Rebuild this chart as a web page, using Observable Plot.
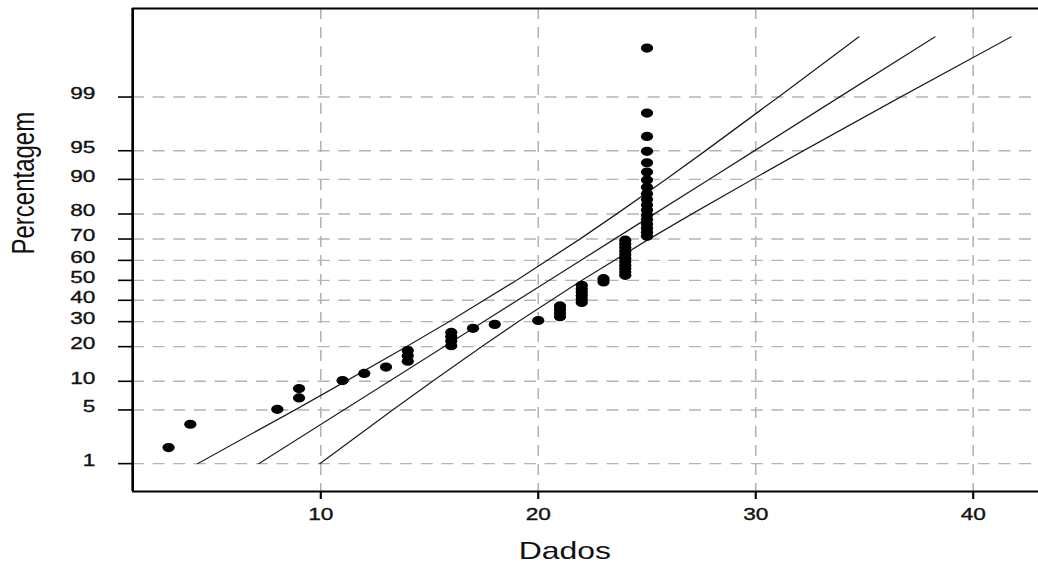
<!DOCTYPE html>
<html>
<head>
<meta charset="utf-8">
<script src="https://cdn.jsdelivr.net/npm/d3@7"></script>
<script src="https://cdn.jsdelivr.net/npm/@observablehq/plot@0.6"></script>
<style>
  html, body { margin: 0; padding: 0; background: white; overflow: hidden; }
  #chart { width: 1038px; height: 567px; }
</style>
</head>
<body>
<div id="chart"></div>
<script>
// ---- data ----
const dados = [3, 4, 8, 9, 9, 11, 12, 13, 14, 14, 14, 16, 16, 16, 16, 17, 18, 20,
  21, 21, 21, 21, 22, 22, 22, 22, 22, 22, 23, 23,
  24, 24, 24, 24, 24, 24, 24, 24, 24, 24, 24,
  25, 25, 25, 25, 25, 25, 25, 25, 25, 25, 25, 25, 25, 25, 25, 25, 25, 25];
const percentagem = [1.69, 3.39, 5.08, 6.78, 8.47, 10.17, 11.86, 13.56, 15.25, 16.95,
  18.64, 20.34, 22.03, 23.73, 25.42, 27.12, 28.81, 30.51, 32.20, 33.90,
  35.59, 37.29, 38.98, 40.68, 42.37, 44.07, 45.76, 47.46, 49.15, 50.85,
  52.54, 54.24, 55.93, 57.63, 59.32, 61.02, 62.71, 64.41, 66.10, 67.80,
  69.49, 71.19, 72.88, 74.58, 76.27, 77.97, 79.66, 81.36, 83.05, 84.75,
  86.44, 88.14, 89.83, 91.53, 93.22, 94.92, 96.61, 98.31, 99.84];

// fitted line and confidence band (percent levels and data values)
const linePercent = [1, 5, 10, 20, 30, 50, 70, 80, 90, 95, 99, 99.9];
const lineCenter = [7.15, 11.06, 13.14, 15.67, 17.49, 20.5, 23.51, 25.33, 27.86, 29.94, 33.85, 38.24];
const lineLower  = [4.34, 8.81, 11.15, 13.94, 15.9, 19.0, 21.92, 23.6, 25.87, 27.69, 31.04, 34.74];
const lineUpper  = [9.96, 13.31, 15.13, 17.4, 19.08, 22.0, 25.1, 27.06, 29.85, 32.19, 36.66, 41.74];

// axis ticks
const xTicks = [10, 20, 30, 40];
const yTickPercents = [1, 5, 10, 20, 30, 40, 50, 60, 70, 80, 90, 95, 99];

// ---- normal probability scale helper (inverse normal CDF) ----
function probit(p) {
  const a = [-3.969683028665376e+01, 2.209460984245205e+02, -2.759285104469687e+02, 1.383577518672690e+02, -3.066479806614716e+01, 2.506628277459239e+00];
  const b = [-5.447609879822406e+01, 1.615858368580409e+02, -1.556989798598866e+02, 6.680131188771972e+01, -1.328068155288572e+01];
  const c = [-7.784894002430293e-03, -3.223964580411365e-01, -2.400758277161838e+00, -2.549671664278934e+00, 4.374664141464968e+00, 2.938163982698783e+00];
  const d = [7.784695709041462e-03, 3.224671290700398e-01, 2.445134137142996e+00, 3.754408661907416e+00];
  const pl = 0.02425, ph = 1 - pl;
  let q, r;
  if (p < pl) {
    q = Math.sqrt(-2 * Math.log(p));
    return (((((c[0]*q+c[1])*q+c[2])*q+c[3])*q+c[4])*q+c[5]) / ((((d[0]*q+d[1])*q+d[2])*q+d[3])*q+1);
  }
  if (p <= ph) {
    q = p - 0.5; r = q * q;
    return (((((a[0]*r+a[1])*r+a[2])*r+a[3])*r+a[4])*r+a[5])*q / (((((b[0]*r+b[1])*r+b[2])*r+b[3])*r+b[4])*r+1);
  }
  q = Math.sqrt(-2 * Math.log(1 - p));
  return -(((((c[0]*q+c[1])*q+c[2])*q+c[3])*q+c[4])*q+c[5]) / ((((d[0]*q+d[1])*q+d[2])*q+d[3])*q+1);
}
const z = (pct) => probit(pct / 100);

// ---- tables built from the arrays ----
const points = dados.map((v, i) => ({x: v, p: percentagem[i]}));
const lines = [
  ...linePercent.map((p, i) => ({series: "lower", x: lineLower[i], p})),
  ...linePercent.map((p, i) => ({series: "center", x: lineCenter[i], p})),
  ...linePercent.map((p, i) => ({series: "upper", x: lineUpper[i], p}))
];
const yTickZ = yTickPercents.map(z);
const yLabel = new Map(yTickZ.map((v, i) => [v, String(yTickPercents[i])]));

const xDomain = [1.35, 43.01];
const yDomain = [-2.68, 3.45];

const W = 780, H = 567;
const font = "'Liberation Sans', Arial, Helvetica, sans-serif";

const chart = Plot.plot({
  width: W,
  height: H,
  marginLeft: 99.2,
  marginRight: 0,
  marginTop: 8,
  marginBottom: 76,
  style: {fontFamily: font, fontSize: "16px", background: "white", color: "black", overflow: "visible"},
  x: {domain: xDomain},
  y: {domain: yDomain},
  marks: [
    Plot.gridY(yTickZ, {stroke: "#b4b4b4", strokeOpacity: 1, strokeWidth: 1.4, strokeDasharray: "9,6.5"}),
    Plot.gridX(xTicks, {stroke: "#b4b4b4", strokeOpacity: 1, strokeWidth: 1.2, strokeDasharray: "11,8"}),
    Plot.line(lines, {x: "x", y: d => z(d.p), z: "series", stroke: "#1a1a1a", strokeWidth: 1.1}),
    Plot.dot(points, {x: "x", y: d => z(d.p), r: 4.6, fill: "black", stroke: "none"}),
    Plot.ruleY([yDomain[0], yDomain[1]], {stroke: "black", strokeWidth: 2}),
    Plot.ruleX([xDomain[0]], {stroke: "black", strokeWidth: 2}),
    Plot.axisY(yTickZ, {tickSize: 10.5, fill: "none", label: null, strokeWidth: 1.6}),
    Plot.axisY(yTickZ, {tickSize: 0, tickPadding: 28, stroke: "none", fill: "#111",
      textStroke: "#111", textStrokeWidth: 0.35,
      tickFormat: v => yLabel.get(v), fontSize: 17, dy: -3, label: null}),
    Plot.axisX(xTicks, {tickSize: 8, tickPadding: 8, fontSize: 17, label: null, strokeWidth: 1.6, fill: "#111",
      textStroke: "#111", textStrokeWidth: 0.35}),
    Plot.text(["Dados"], {text: d => d, frameAnchor: "bottom", dx: -15.6, dy: 60, fontSize: 24, lineAnchor: "middle", fill: "#111"}),
    Plot.text(["Percentagem"], {text: d => d, frameAnchor: "left", dx: -81.7, dy: 4.5, rotate: -90, fontSize: 24, lineAnchor: "middle", fill: "#111"})
  ]
});

// the reference image is stretched horizontally: stretch the drawing to the window width
chart.setAttribute("viewBox", `0 0 ${W} ${H}`);
chart.setAttribute("preserveAspectRatio", "none");
chart.setAttribute("width", 1038);
chart.setAttribute("height", H);
chart.style.width = "1038px";
chart.style.height = H + "px";
chart.style.maxWidth = "none";
document.getElementById("chart").appendChild(chart);
</script>
</body>
</html>
